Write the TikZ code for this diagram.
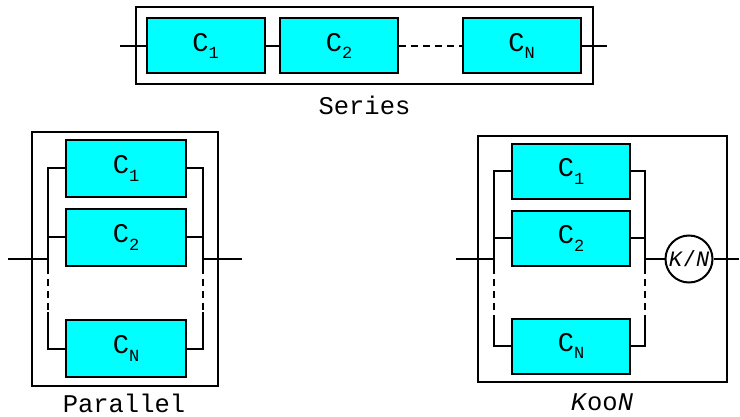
\documentclass[tikz,border=0pt]{standalone}
\usepackage{fontspec}
\setmainfont{Liberation Mono}
\definecolor{compfill}{RGB}{0,255,255}
\newcommand{\cname}[1]{C\raisebox{-0.28em}{\fontsize{17}{17}\selectfont #1}}
\begin{document}
\begin{tikzpicture}[x=1pt,y=-1pt,line width=2pt,
  comp/.style={draw,fill=compfill,minimum width=118pt,minimum height=55pt,inner sep=0pt,
    font=\fontsize{27}{27}\selectfont},
  frame/.style={draw},
  captext/.style={font=\fontsize{25.5}{25.5}\selectfont,inner sep=0pt,anchor=base},
  gap/.style={dash pattern=on 7pt off 5pt}]
\useasboundingbox (0,0) rectangle (740,417);

% ---- series arrangement
\draw[frame] (136,7) rectangle (593,84);
\node[comp] (s1) at (205.5,46) {\cname{1}};
\node[comp] (s2) at (339,46) {\cname{2}};
\node[comp] (sn) at (521.5,46) {\cname{N}};
\coordinate (sin) at (120,46);
\coordinate (sout) at (607,46);
\draw (sin) -- (s1.west);
\draw (s1.east) -- (s2.west);
\draw[gap] (s2.east) -- (sn.west);
\draw (sn.east) -- (sout);
\node[captext] (slab) at (364.5,115) {Series};

% ---- parallel arrangement
\draw[frame] (32,132) rectangle (218,386);
\node[comp,minimum width=120pt,minimum height=57pt] (p1) at (126,168.5) {\cname{1}};
\node[comp,minimum width=120pt,minimum height=57pt] (p2) at (126,237.5) {\cname{2}};
\node[comp,minimum width=120pt,minimum height=57pt] (pn) at (126,348.5) {\cname{N}};
\coordinate (pl1) at (48,168.5);
\coordinate (pl2) at (48,237.5);
\coordinate (plm) at (48,259);
\coordinate (pla) at (48,267);
\coordinate (plb) at (48,312);
\coordinate (pln) at (48,348.5);
\coordinate (pr1) at (203,168.5);
\coordinate (pr2) at (203,237.5);
\coordinate (prm) at (203,259);
\coordinate (pra) at (203,267);
\coordinate (prb) at (203,312);
\coordinate (prn) at (203,348.5);
\coordinate (pin) at (8,259);
\coordinate (pout) at (242,259);
\draw (p1.west) -- (pl1) -- (pla);
\draw[gap] (pla) -- (plb);
\draw (plb) -- (pln) -- (pn.west);
\draw (pl2) -- (p2.west);
\draw (p1.east) -- (pr1) -- (pra);
\draw[gap] (pra) -- (prb);
\draw (prb) -- (prn) -- (pn.east);
\draw (pr2) -- (p2.east);
\draw (pin) -- (plm);
\draw (prm) -- (pout);
\node[captext] (plab) at (124,412.5) {Parallel};

% ---- K-out-of-N arrangement
\draw[frame] (478,136) rectangle (727,382);
\node[comp] (k1) at (571,171.5) {\cname{1}};
\node[comp] (k2) at (571,238.5) {\cname{2}};
\node[comp] (kn) at (571,346) {\cname{N}};
\coordinate (kl1) at (494,171.5);
\coordinate (kl2) at (494,238.5);
\coordinate (klm) at (494,259);
\coordinate (kla) at (494,267);
\coordinate (klb) at (494,317);
\coordinate (kln) at (494,346);
\coordinate (kr1) at (645,171.5);
\coordinate (kr2) at (645,238.5);
\coordinate (krm) at (645,259);
\coordinate (kra) at (645,267);
\coordinate (krb) at (645,317);
\coordinate (krn) at (645,346);
\coordinate (kin) at (456,259);
\coordinate (kout) at (739,259);
\node[draw,circle,minimum size=47pt,inner sep=0pt,font=\fontsize{22}{22}\selectfont] (vote) at (689,259) {\textit{K}/\textit{N}};
\draw (k1.west) -- (kl1) -- (kla);
\draw[gap] (kla) -- (klb);
\draw (klb) -- (kln) -- (kn.west);
\draw (kl2) -- (k2.west);
\draw (k1.east) -- (kr1) -- (kra);
\draw[gap] (kra) -- (krb);
\draw (krb) -- (krn) -- (kn.east);
\draw (kr2) -- (k2.east);
\draw (kin) -- (klm);
\draw (krm) -- (vote.west);
\draw (vote.east) -- (kout);
\node[captext] (klab) at (602,410) {\textit{K}oo\textit{N}};
\end{tikzpicture}
\end{document}
